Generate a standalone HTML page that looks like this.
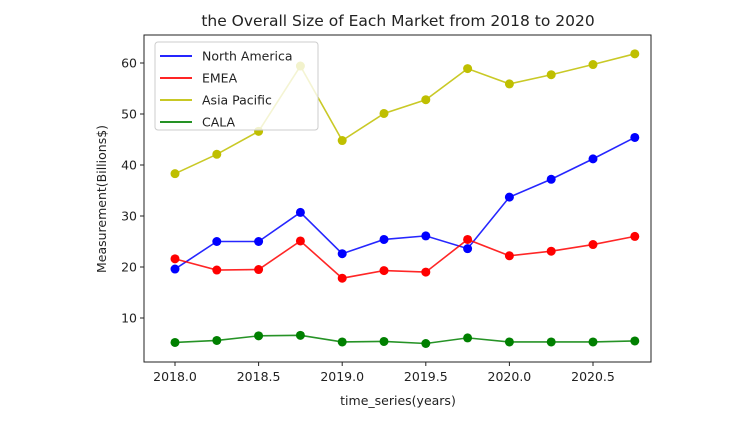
<!DOCTYPE html>
<html><head><meta charset="utf-8"><style>body{margin:0;background:#fff}svg text{font-family:"DejaVu Sans","Liberation Sans",sans-serif;fill:#222}</style></head>
<body>
<svg id="c" width="742" height="433"></svg>
<script>
const xs=[2018,2018.25,2018.5,2018.75,2019,2019.25,2019.5,2019.75,2020,2020.25,2020.5,2020.75];
const na=[19.6,25,25,30.7,22.6,25.4,26.1,23.6,33.7,37.2,41.2,45.4];
const emea=[21.6,19.4,19.5,25.1,17.8,19.3,19.0,25.4,22.2,23.1,24.4,26.0];
const ap=[38.3,42.1,46.6,59.4,44.8,50.1,52.8,58.9,55.9,57.7,59.7,61.8];
const cala=[5.2,5.6,6.5,6.6,5.3,5.4,5.0,6.1,5.3,5.3,5.3,5.5];
const xticks=[2018,2018.5,2019,2019.5,2020,2020.5];
const yticks=[10,20,30,40,50,60];
const X=v=>175+(v-2018)*167.2, Y=v=>318-(v-10)*5.1;
const s=document.getElementById('c');const NS='http://www.w3.org/2000/svg';
function el(t,a,p){const e=document.createElementNS(NS,t);for(const k in a)e.setAttribute(k,a[k]);(p||s).appendChild(e);return e;}
const L=144,R=651,T=35,B=362;
let t=el('text',{x:398,y:26,'text-anchor':'middle','font-size':15.5});t.textContent='the Overall Size of Each Market from 2018 to 2020';

const series=[[na,'#0000ff','north-america'],[emea,'#ff0000','emea'],[ap,'#bfbf00','asia-pacific'],[cala,'#008000','cala']];
series.forEach(([d,c,n])=>{
 const g=el('g',{});
 el('polyline',{points:d.map((v,i)=>X(xs[i])+','+Y(v)).join(' '),fill:'none',stroke:c,'stroke-width':1.6,opacity:0.85},g);
 d.forEach((v,i)=>{const p=el('circle',{cx:X(xs[i]),cy:Y(v),r:4.5,fill:c},g);});
});
const ax=el('rect',{x:L,y:T,width:R-L,height:B-T,fill:'none',stroke:'#222','stroke-width':1});

xticks.forEach(v=>{el('line',{x1:X(v),x2:X(v),y1:B,y2:B+4,stroke:'#222'});const q=el('text',{x:X(v),y:B+19,'text-anchor':'middle','font-size':12.5});q.textContent=v.toFixed(1);});
yticks.forEach(v=>{el('line',{x1:L-4,x2:L,y1:Y(v),y2:Y(v),stroke:'#222'});const q=el('text',{x:L-7,y:Y(v)+4.5,'text-anchor':'end','font-size':12.5});q.textContent=v;});
t=el('text',{x:398,y:405,'text-anchor':'middle','font-size':12.5});t.textContent='time_series(years)';
t=el('text',{x:0,y:0,'text-anchor':'middle','font-size':12.5,transform:'translate(106,199) rotate(-90)'});t.textContent='Measurement(Billions$)';
const lg=el('g',{});
el('rect',{x:155,y:42,width:163,height:88,rx:3,fill:'#fff','fill-opacity':0.8,stroke:'#ccc'},lg);
[['North America','#0000ff'],['EMEA','#ff0000'],['Asia Pacific','#bfbf00'],['CALA','#008000']].forEach(([n,c],i)=>{
 const y=56+i*22;const g=el('g',{},lg);
 el('line',{x1:160,x2:192,y1:y,y2:y,stroke:c,'stroke-width':2,opacity:0.85},g);
 const q=el('text',{x:202,y:y+4.5,'font-size':12.5},g);q.textContent=n;
});
</script>
</body></html>
